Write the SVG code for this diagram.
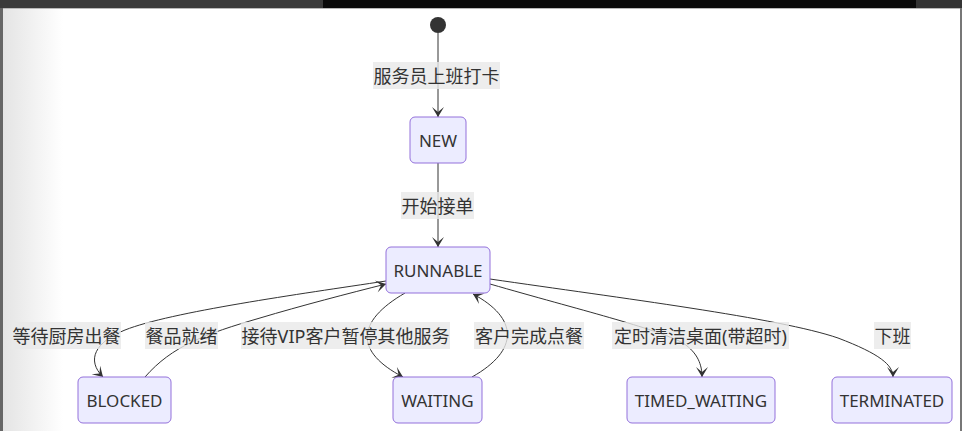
<svg xmlns="http://www.w3.org/2000/svg" width="962" height="431" viewBox="0 0 962 431">
  <defs>
    <linearGradient id="edgeShade" x1="0" y1="0" x2="1" y2="0">
      <stop offset="0" stop-color="#e4e4e4"/>
      <stop offset="1" stop-color="#ffffff"/>
    </linearGradient>
    <marker id="barb" markerWidth="20" markerHeight="14" refX="19" refY="7" orient="auto" markerUnits="userSpaceOnUse">
      <path d="M19,7 L9,13 L14,7 L9,1 Z" fill="#333333"/>
    </marker>
    <style>
      .state rect { fill: #ECECFF; stroke: #9370DB; stroke-width: 1; }
      .state text { font-family: "Noto Sans", "Liberation Sans", sans-serif; font-size: 17px; fill: #333333; text-anchor: middle; dominant-baseline: central; }
      .edge { fill: none; stroke: #333333; stroke-width: 1; marker-end: url(#barb); }
      .label rect { fill: #e8e8e8; opacity: 0.8; }
      .label text { font-family: "Noto Sans", "Noto Sans CJK SC", sans-serif; font-size: 18px; fill: #333333; text-anchor: middle; dominant-baseline: central; }
    </style>
  </defs>

  <!-- window frame -->
  <rect x="0" y="0" width="962" height="431" fill="#ffffff"/>
  <rect x="3" y="8" width="60" height="423" fill="url(#edgeShade)"/>
  <rect x="0" y="0" width="323" height="8" fill="#3a3a3a"/>
  <rect x="323" y="0" width="593" height="8" fill="#0a0a0a"/>
  <rect x="916" y="0" width="46" height="8" fill="#343434"/>
  <rect x="0" y="8" width="962" height="1" fill="#b8b8b8"/>
  <rect x="0" y="8" width="3" height="423" fill="#666666"/>
  <rect x="960" y="8" width="2" height="423" fill="#777777"/>

  <!-- transitions -->
  <g id="connectors">
    <path class="edge" d="M438,33 L438,117"/>
    <path class="edge" d="M438,163 L438,247"/>
    <path class="edge" d="M386,281 C300,294 170,312 125,330 C95,342 86,360 103,377"/>
    <path class="edge" d="M145,377 C172,346 205,334 260,318 C300,306 350,293 386,284"/>
    <path class="edge" d="M405,293 C355,322 355,352 403,377"/>
    <path class="edge" d="M472,377 C520,350 518,318 473,294"/>
    <path class="edge" d="M490,284 C580,310 655,328 683,343 C698,353 702,365 702,377"/>
    <path class="edge" d="M490,279 C620,298 780,318 838,338 C880,354 893,365 893,377"/>
  </g>

  <!-- transition labels -->
  <g id="labels">
    <g class="label"><rect x="373" y="62" width="127" height="27"/><text x="436.5" y="76">服务员上班打卡</text></g>
    <g class="label"><rect x="401" y="192" width="73" height="27"/><text x="437.5" y="206">开始接单</text></g>
    <g class="label"><rect x="12" y="322" width="109" height="27"/><text x="66.5" y="336">等待厨房出餐</text></g>
    <g class="label"><rect x="145" y="322" width="73" height="27"/><text x="181.5" y="336">餐品就绪</text></g>
    <g class="label"><rect x="241" y="322" width="209" height="27"/><text x="345.5" y="336">接待VIP客户暂停其他服务</text></g>
    <g class="label"><rect x="474" y="322" width="110" height="27"/><text x="529" y="336">客户完成点餐</text></g>
    <g class="label"><rect x="612" y="322" width="177" height="27"/><text x="700.5" y="336">定时清洁桌面(带超时)</text></g>
    <g class="label"><rect x="874" y="322" width="37" height="27"/><text x="892.5" y="336">下班</text></g>
  </g>

  <!-- states -->
  <g id="start"><circle cx="438" cy="25" r="8" fill="#333333"/></g>
  <g id="NEW" class="state"><rect x="410" y="117" width="56" height="46" rx="5"/><text x="438" y="140">NEW</text></g>
  <g id="RUNNABLE" class="state"><rect x="386" y="247" width="104" height="46" rx="5"/><text x="438" y="270">RUNNABLE</text></g>
  <g id="BLOCKED" class="state"><rect x="78" y="377" width="93" height="46" rx="5"/><text x="124.5" y="400">BLOCKED</text></g>
  <g id="WAITING" class="state"><rect x="393" y="377" width="89" height="46" rx="5"/><text x="437.5" y="400">WAITING</text></g>
  <g id="TIMED_WAITING" class="state"><rect x="627" y="377" width="148" height="46" rx="5"/><text x="701" y="400">TIMED_WAITING</text></g>
  <g id="TERMINATED" class="state"><rect x="832" y="377" width="120" height="46" rx="5"/><text x="892" y="400">TERMINATED</text></g>
</svg>
